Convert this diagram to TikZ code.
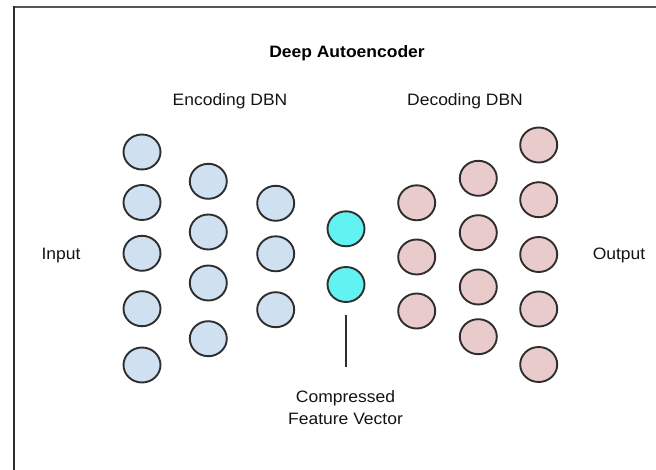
\documentclass[tikz,border=0pt]{standalone}
\usepackage{fontspec}
\setmainfont[FakeStretch=1.06]{Liberation Sans}
\usetikzlibrary{shapes.geometric}
\definecolor{encfill}{HTML}{CFE0F1}
\definecolor{decfill}{HTML}{EACBCB}
\definecolor{codefill}{HTML}{62F2F2}
\definecolor{edge}{HTML}{2E2E2E}
\definecolor{framecol}{HTML}{555555}
\tikzset{
  unit/.style={ellipse, draw=edge, line width=1.9pt, minimum width=37pt, minimum height=35pt, inner sep=0pt},
  enc/.style={unit, fill=encfill},
  dec/.style={unit, fill=decfill},
  code/.style={unit, fill=codefill},
  lbl/.style={anchor=base, inner sep=0pt, text=black!92, font=\fontsize{16.5}{19}\selectfont},
  ttl/.style={anchor=base, inner sep=0pt, text=black, font=\fontsize{16.5}{19}\selectfont\bfseries},
}
\begin{document}
\begin{tikzpicture}[x=1pt, y=-1pt]
\useasboundingbox (0,0) rectangle (656,470);
% frame
\draw[framecol, line width=2pt] (12.5,7) -- (656,7);
\draw[edge, line width=2pt] (13.5,6) -- (13.5,470);
% labels
\node[ttl] (title) at (347,57.7) {Deep Autoencoder};
\node[lbl] (encl) at (230,105.5) {Encoding DBN};
\node[lbl] (decl) at (465,105.5) {Decoding DBN};
\node[lbl] (inl) at (61,260) {Input};
\node[lbl] (outl) at (619,260) {Output};
\node[lbl] (cfv1) at (345.5,402.7) {Compressed};
\node[lbl] (cfv2) at (345.5,424) {Feature Vector};
% encoder
\node[enc] (a1) at (142,152) {};
\node[enc] (a2) at (142,202.5) {};
\node[enc] (a3) at (142,253.3) {};
\node[enc] (a4) at (142,308.7) {};
\node[enc] (a5) at (142,365) {};
\node[enc] (b1) at (208.3,181.3) {};
\node[enc] (b2) at (208.3,232) {};
\node[enc] (b3) at (208.3,283) {};
\node[enc] (b4) at (208.3,338.7) {};
\node[enc] (c1) at (275.7,203.3) {};
\node[enc] (c2) at (275.7,253.8) {};
\node[enc] (c3) at (275.7,309.7) {};
% code
\node[code] (f1) at (346,228.8) {};
\node[code] (f2) at (346,284.5) {};
% decoder
\node[dec] (d1) at (416.7,202.8) {};
\node[dec] (d2) at (416.7,257) {};
\node[dec] (d3) at (416.7,311) {};
\node[dec] (e1) at (478.3,178.3) {};
\node[dec] (e2) at (478.3,232.7) {};
\node[dec] (e3) at (478.3,287) {};
\node[dec] (e4) at (478.3,336.7) {};
\node[dec] (g1) at (538.7,145) {};
\node[dec] (g2) at (538.7,199.7) {};
\node[dec] (g3) at (538.7,254.5) {};
\node[dec] (g4) at (538.7,309) {};
\node[dec] (g5) at (538.7,364.5) {};
% pointer line
\coordinate (ptop) at (346,315);
\coordinate (pbot) at (346,367);
\draw[edge, line width=1.8pt] (ptop) -- (pbot);
\end{tikzpicture}
\end{document}
